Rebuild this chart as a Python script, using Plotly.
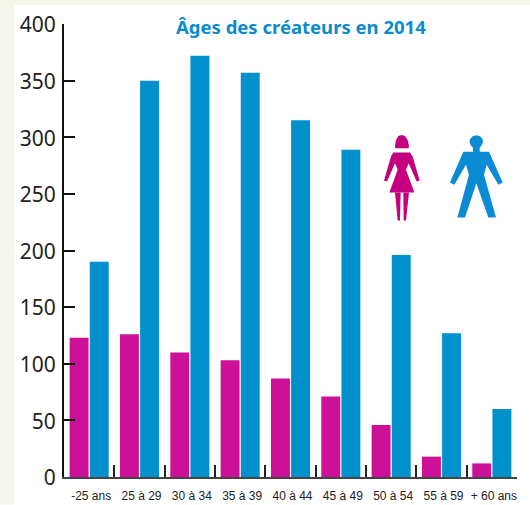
import plotly.graph_objects as go

categories = ["-25 ans", "25 à 29", "30 à 34", "35 à 39", "40 à 44", "45 à 49", "50 à 54", "55 à 59", "+ 60 ans"]
women = [123, 126, 110, 103, 87, 71, 46, 18, 12]
men = [190, 350, 372, 357, 315, 289, 196, 127, 60]
y_ticks = [0, 50, 100, 150, 200, 250, 300, 350, 400]

W, H = 530, 505
L, R, T, B = 64, 13, 24, 27.5
PINK, BLUE = "#cc1097", "#0090cc"

def px(x, y):
    return (x - L) / (W - L - R), 1 - (y - T) / (H - T - B)

def icon(points):
    # points in zoom crop coords of the (360,120) crop
    parts = []
    for i, (a, b) in enumerate(points):
        x, y = px(360 + a / 3, 120 + b / 3)
        parts.append(("M" if i == 0 else "L") + f"{x:.4f},{y:.4f}")
    return " ".join(parts) + " Z"

def poly(points, color):
    return dict(type="path", xref="paper", yref="paper", path=icon(points),
                fillcolor=color, line=dict(width=0), layer="above")

woman_hair = [(105, 78), (108, 60), (115, 48), (125, 45), (135, 48), (143, 60), (147, 78), (146, 85), (106, 85)]
woman_body = [(100, 98), (150, 98), (158, 110), (179, 182), (170, 185), (146, 130), (138, 150), (163, 218),
              (88, 218), (113, 150), (105, 130), (81, 185), (72, 182), (93, 110)]
woman_leg1 = [(105, 218), (122, 218), (120, 302), (113, 302)]
woman_leg2 = [(130, 218), (147, 218), (138, 302), (131, 302)]
man_head = [(349, 46), (360, 49), (368, 58), (369, 68), (364, 78), (359, 84), (359, 96), (387, 96), (428, 188),
            (415, 195), (380, 135), (372, 165), (408, 293), (385, 293), (349, 190), (315, 293), (292, 293),
            (327, 165), (318, 135), (283, 195), (270, 188), (310, 96), (339, 96), (339, 84), (333, 78),
            (329, 68), (330, 58), (338, 49)]
WOMAN_C, MAN_C = "#c4007f", "#0a8bd4"

shapes = [
    dict(type="rect", xref="paper", yref="paper", x0=px(0, 0)[0], x1=px(14, 0)[0], y0=px(0, H)[1], y1=px(0, 0)[1],
         fillcolor="#f4f6ec", line=dict(width=0), layer="below"),
    dict(type="rect", xref="paper", yref="paper", x0=px(0, 0)[0], x1=px(W, 0)[0], y0=px(0, 5)[1], y1=px(0, 0)[1],
         fillcolor="#f4f6ec", line=dict(width=0), layer="below"),
    poly(woman_hair, WOMAN_C), poly(woman_body, WOMAN_C), poly(woman_leg1, WOMAN_C), poly(woman_leg2, WOMAN_C),
    poly(man_head, MAN_C),
]

fig = go.Figure()
fig.add_bar(x=categories, y=women, name="Femmes", marker=dict(color=PINK, line=dict(width=0)))
fig.add_bar(x=categories, y=men, name="Hommes", marker=dict(color=BLUE, line=dict(width=0)))
fig.update_layout(
    width=W, height=H, margin=dict(l=L, r=R, t=T, b=B, pad=0, autoexpand=False),
    paper_bgcolor="white", plot_bgcolor="rgba(0,0,0,0)",
    barmode="group", bargap=0.2, bargroupgap=0.06, showlegend=False, shapes=shapes,
    annotations=[dict(text="<b>Âges des créateurs en 2014</b>", xref="paper", yref="paper",
                      x=px(301, 0)[0], y=px(0, 27)[1], showarrow=False, xanchor="center", yanchor="middle",
                      font=dict(family="Noto Sans", size=18.5, color="#0a8bcf"))],
    xaxis=dict(type="category", tickson="boundaries", ticks="inside", ticklen=12, tickwidth=2, tickcolor="#222",
               tickangle=0, automargin=False, ticklabelstandoff=7, ticklabelshift=2,
               showline=True, linecolor="#444", linewidth=2, showgrid=False, zeroline=False,
               tickfont=dict(family="Liberation Sans", size=12, color="#222")),
    yaxis=dict(range=[0, 400], tickvals=y_ticks, ticks="inside", ticklen=11, tickwidth=2, tickcolor="#111",
               automargin=False, ticklabelstandoff=2, ticklabelshift=1,
               showline=True, linecolor="#111", linewidth=2, showgrid=False, zeroline=False,
               tickfont=dict(family="Noto Sans", size=21, color="#222")),
)
fig.write_html("out.html", config=dict(displayModeBar=False), post_script="document.body.style.margin='0';")
